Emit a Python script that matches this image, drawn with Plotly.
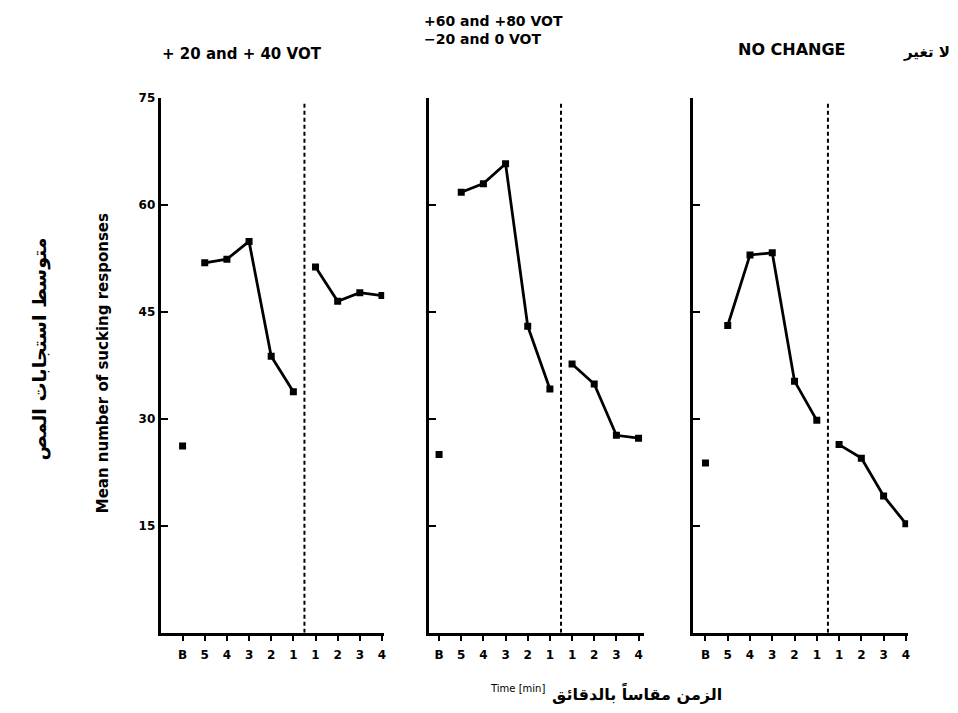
import plotly.graph_objects as go

# ---- data ----
tick_labels = ["B", "5", "4", "3", "2", "1", "1", "2", "3", "4"]
panel_titles = ["+ 20 and + 40 VOT", "+60 and +80 VOT", "−20 and 0 VOT", "NO CHANGE"]

p1_base = 26.2
p1_pre = [51.9, 52.4, 54.9, 38.8, 33.8]
p1_post = [51.3, 46.5, 47.7, 47.3]

p2_base = 25.0
p2_pre = [61.8, 63.0, 65.8, 43.0, 34.2]
p2_post = [37.7, 34.9, 27.7, 27.3]

p3_base = 23.8
p3_pre = [43.1, 53.0, 53.3, 35.3, 29.8]
p3_post = [26.4, 24.5, 19.2, 15.3]

y_ticks = [15, 30, 45, 60, 75]

panels = [(p1_base, p1_pre, p1_post), (p2_base, p2_pre, p2_post), (p3_base, p3_pre, p3_post)]

W, H = 958, 713
# pixel layout of each panel: (left px, right px, x-range)
px_dom = [(161, 385, [-0.99, 9.1]), (430, 645, [-0.45, 9.23]), (694, 910, [-0.58, 9.1])]
y_bottom_px, y_top_px = 632, 92

fig = go.Figure()
line_style = dict(color="black", width=2.8)
marker_style = dict(symbol="square", size=7, color="black")

for i, (base, pre, post) in enumerate(panels):
    ax = "" if i == 0 else str(i + 1)
    xa, ya = "x" + ax, "y" + ax
    fig.add_trace(go.Scatter(x=[0], y=[base], mode="markers", marker=marker_style,
                             xaxis=xa, yaxis=ya, showlegend=False))
    fig.add_trace(go.Scatter(x=list(range(1, 6)), y=pre, mode="lines+markers",
                             line=line_style, marker=marker_style,
                             xaxis=xa, yaxis=ya, showlegend=False))
    fig.add_trace(go.Scatter(x=list(range(6, 10)), y=post, mode="lines+markers",
                             line=line_style, marker=marker_style,
                             xaxis=xa, yaxis=ya, showlegend=False))
    fig.add_shape(type="line", xref=xa, yref=ya, x0=5.5, x1=5.5, y0=0, y1=74.5,
                  line=dict(color="black", width=2, dash="4px,3px"))

    l, r, rng = px_dom[i]
    xaxis = dict(domain=[l / W, r / W], range=rng, tickmode="array",
                 tickvals=list(range(10)), ticktext=["<b>" + t + "</b>" for t in tick_labels],
                 ticks="outside", ticklen=5, tickwidth=2, tickcolor="black",
                 showline=True, linecolor="black", linewidth=3,
                 showgrid=False, zeroline=False, anchor=ya, ticklabelstandoff=4,
                 tickfont=dict(family="DejaVu Sans", size=12, color="black"))
    yaxis = dict(domain=[(H - y_bottom_px) / H, (H - y_top_px) / H], range=[0, 75],
                 tickmode="array", tickvals=y_ticks,
                 ticktext=["<b>" + str(v) + "</b>" for v in y_ticks] if i == 0 else [""] * len(y_ticks),
                 ticks="inside", ticklen=7, tickwidth=2, tickcolor="black",
                 showline=True, linecolor="black", linewidth=3,
                 showgrid=False, zeroline=False, anchor=xa,
                 tickfont=dict(family="DejaVu Sans", size=12, color="black"))
    fig.layout["xaxis" + ax] = xaxis
    fig.layout["yaxis" + ax] = yaxis

bold = dict(family="DejaVu Sans", color="black")
ann = [
    dict(text="<b>" + panel_titles[0] + "</b>", x=160 / W, y=1 - 47 / H, xanchor="left",
         yanchor="middle", font=dict(size=15, **bold)),
    dict(text="<b>" + panel_titles[1] + "</b>", x=423 / W, y=1 - 14 / H, xanchor="left",
         yanchor="middle", font=dict(size=14, **bold)),
    dict(text="<b>" + panel_titles[2] + "</b>", x=423 / W, y=1 - 32 / H, xanchor="left",
         yanchor="middle", font=dict(size=14, **bold)),
    dict(text="<b>" + panel_titles[3] + "</b>", x=738 / W, y=1 - 43 / H, xanchor="left",
         yanchor="middle", font=dict(size=16, **bold)),
    dict(text="<b>لا تغير</b>", x=954 / W, y=1 - 45 / H, xanchor="right",
         yanchor="middle", font=dict(size=15, **bold)),
    dict(text="<b>Mean number of sucking responses</b>", x=104 / W, y=1 - 360 / H,
         xanchor="center", yanchor="middle", textangle=-90, font=dict(size=15, **bold)),
    dict(text="<b>متوسط استجابات المص</b>", x=40 / W, y=1 - 345 / H,
         xanchor="center", yanchor="middle", textangle=-90, font=dict(size=19, **bold)),
    dict(text="Time [min]", x=519 / W, y=1 - 688 / H, xanchor="center",
         yanchor="middle", font=dict(size=10, **bold)),
    dict(text="<b>الزمن مقاساً بالدقائق</b>", x=638 / W, y=1 - 693 / H, xanchor="center",
         yanchor="middle", font=dict(size=16, **bold)),
]
for a in ann:
    a.update(xref="paper", yref="paper", showarrow=False)
fig.update_layout(annotations=ann, width=W, height=H,
                  margin=dict(l=0, r=0, t=0, b=0),
                  plot_bgcolor="white", paper_bgcolor="white")

fig.write_html("out.html", config={"displayModeBar": False},
               post_script="document.body.style.margin='0';document.body.style.overflow='hidden';")
